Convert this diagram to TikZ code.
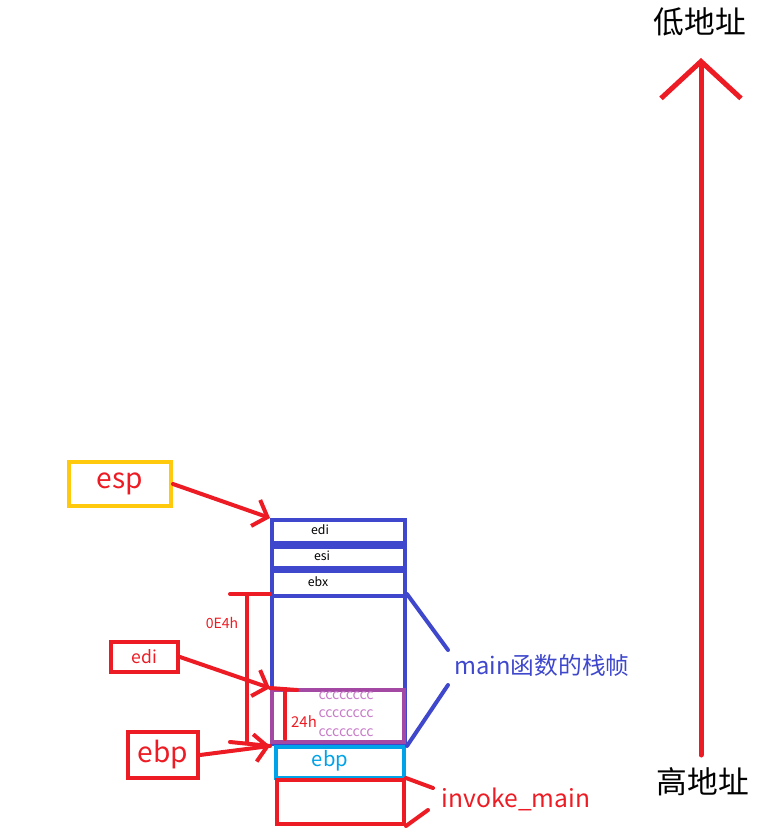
\documentclass[tikz,border=0pt]{standalone}
\usepackage{fontspec}
\setmainfont{Noto Sans CJK SC}
\usetikzlibrary{arrows.meta}

\definecolor{penred}{HTML}{ED1C24}
\definecolor{stackblue}{HTML}{3F48CC}
\definecolor{penyellow}{HTML}{FFC90E}
\definecolor{penpurple}{HTML}{A349A4}
\definecolor{ccpink}{HTML}{C87CC8}
\definecolor{pencyan}{HTML}{00A2E8}

\tikzset{
  cell/.style={draw=stackblue, line width=0.08cm, inner sep=0pt, anchor=north west, minimum width=2.66cm},
  regbox/.style={draw=penred, line width=0.08cm, inner sep=0pt, anchor=north west, text=penred},
  penline/.style={draw=penred, line width=0.08cm, line cap=round},
  pointer/.style={penline, -{Straight Barb[length=0.25cm, width=0.55cm]}},
  small/.style={font=\fontsize{7}{8}\selectfont},
}

\begin{document}
\begin{tikzpicture}[x=0.02cm, y=-0.02cm]
\useasboundingbox (0,0) rectangle (766,838);

% address direction
\node[font=\fontsize{17.5}{18}\selectfont] (low) at (700,22) {低地址};
\node[font=\fontsize{17.5}{18}\selectfont] (high) at (703,782) {高地址};
\coordinate (lowtip) at (701,58);
\coordinate (highend) at (701,755);
\draw[penred, line width=0.1cm, line cap=round,
  -{Straight Barb[length=0.74cm, width=1.6cm]}] (highend) -- (lowtip);

% stack cells
\node[cell, minimum height=0.46cm] (cedi) at (270,518) {};
\node[cell, minimum height=0.42cm] (cesi) at (270,545) {};
\node[cell, minimum height=0.50cm] (cebx) at (270,569) {};
\node[cell, minimum height=2.96cm] (cframe) at (270,594) {};
\node[small] (tedi) at (320,530) {edi};
\node[small] (tesi) at (322,556) {esi};
\node[small] (tebx) at (318,582) {ebx};

% filled locals
\node[draw=penpurple, line width=0.08cm, inner sep=0pt, anchor=north west,
  minimum width=2.64cm, minimum height=1.04cm] (cfill) at (270,688) {};
\foreach \y [count=\i] in {696,714,733}
  \node[text=ccpink, font=\fontsize{8}{9}\selectfont] (cc\i) at (346,\y) {cccccccc};

% saved ebp and caller
\node[draw=pencyan, line width=0.08cm, inner sep=0pt, anchor=north west,
  minimum width=2.56cm, minimum height=0.62cm] (cebp) at (274,745) {};
\node[text=pencyan, font=\fontsize{11.5}{12}\selectfont] (tebp) at (330,761) {ebp};
\node[draw=penred, line width=0.08cm, inner sep=0pt, anchor=north west,
  minimum width=2.54cm, minimum height=0.88cm] (ccaller) at (275,778) {};

% registers
\node[draw=penyellow, line width=0.08cm, inner sep=0pt, anchor=north west, text=penred,
  minimum width=2.04cm, minimum height=0.88cm, font=\fontsize{16}{16}\selectfont] (esp) at (67,460) {esp};
\node[regbox, minimum width=1.34cm, minimum height=0.6cm,
  font=\fontsize{10}{10}\selectfont] (edi) at (109,640) {edi};
\node[regbox, minimum width=1.4cm, minimum height=0.92cm,
  font=\fontsize{16}{16}\selectfont] (ebp) at (126,730) {ebp};

\draw[pointer] (esp.east) -- (cedi.north west);
\draw[pointer] (edi.east) -- (cfill.north west);
\draw[pointer] (ebp.east) -- (cframe.south west);

% sizes
\coordinate (hexa) at (230,594);
\coordinate (hexb) at (230,742);
\coordinate (hexc) at (247,594);
\coordinate (hexd) at (247,742);
\draw[penline] (hexa) -- (cframe.north west);
\draw[penline] (hexb) -- (cframe.south west);
\draw[penline] (hexc) -- (hexd);
\node[text=penred, font=\fontsize{8}{9}\selectfont] (size1) at (222,623) {0E4h};

\coordinate (loca) at (297,690);
\coordinate (locb) at (285,690);
\coordinate (locc) at (285,739);
\draw[penline] (cfill.north west) -- (loca);
\draw[penline] (locb) -- (locc);
\node[text=penred, font=\fontsize{8.5}{9}\selectfont] (size2) at (304,722) {24h};

% labels
\coordinate (frametop) at (448,650);
\coordinate (framebot) at (448,685);
\draw[stackblue, line width=0.08cm, line cap=round] (cframe.north east) -- (frametop);
\draw[stackblue, line width=0.08cm, line cap=round] (cframe.south east) -- (framebot);
\node[text=stackblue, font=\fontsize{13.5}{14}\selectfont] (mainlbl) at (542,665) {main函数的栈帧};

\coordinate (callertop) at (433,788);
\coordinate (callerbot) at (428,810);
\draw[penline] (ccaller.north east) -- (callertop);
\draw[penline] (ccaller.south east) -- (callerbot);
\node[text=penred, font=\fontsize{14}{14}\selectfont] (invlbl) at (516,799) {invoke\_main};

\end{tikzpicture}
\end{document}
